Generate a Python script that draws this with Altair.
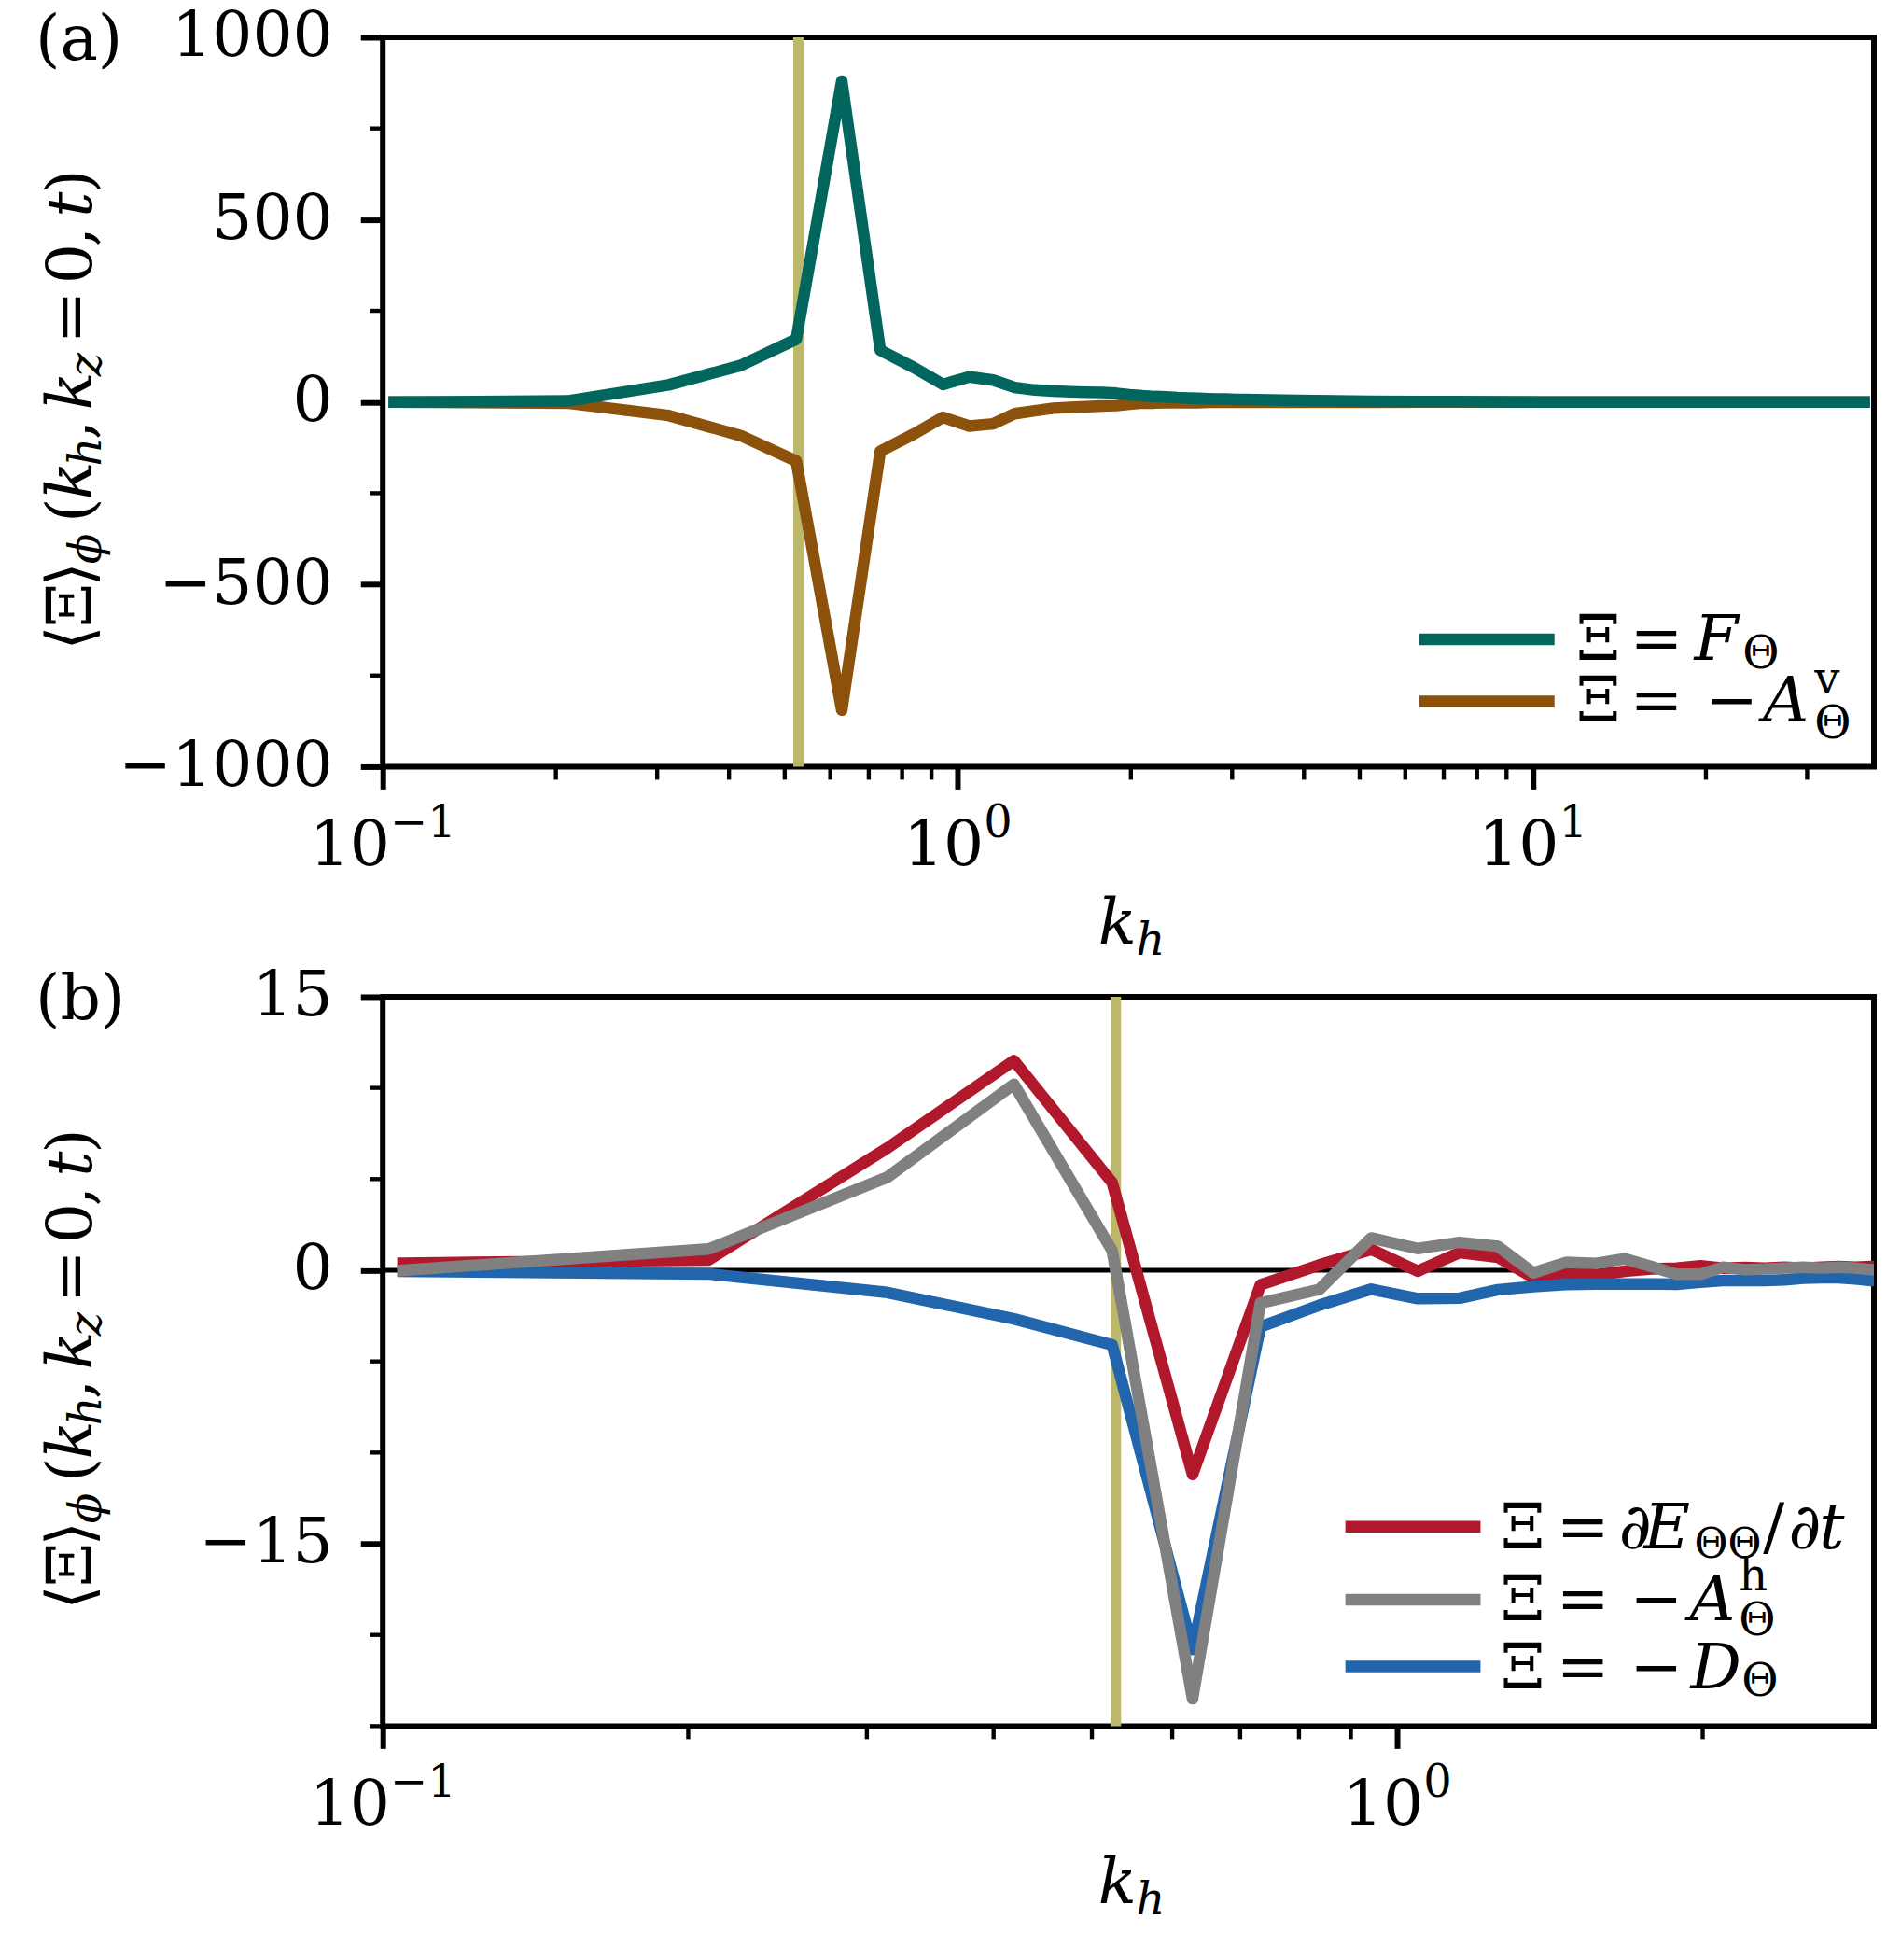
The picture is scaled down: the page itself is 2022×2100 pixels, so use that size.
import altair as alt
import pandas as pd

# ---------------- data ----------------
kh_a = [0.1047, 0.2094, 0.3142, 0.4189, 0.5236, 0.6283, 0.7330, 0.8378, 0.9425, 1.0472,
        1.1519, 1.2566, 1.3614, 1.4661, 1.5708, 1.6755, 1.7802, 1.8850, 1.9897, 2.0944,
        2.1991, 2.3038, 2.4086, 2.5133, 2.6180, 2.7227, 2.8274, 2.9322, 3.0369, 3.1416,
        3.6652, 4.1888, 5.2360, 7.3304, 10.472, 15.708, 20.944, 31.416, 37.699]
F_theta = [0, 3, 47, 100, 172, 880, 142, 95, 48, 69,
           60, 40, 33, 30, 28, 27, 26, 24, 20, 17,
           15, 14, 12, 11, 10, 9, 8, 8, 7, 7,
           5, 4, 2, 1, 0, 0, 0, 0, 0]
neg_Av = [0, -3, -37, -92, -162, -845, -135, -88, -42, -66,
          -60, -32, -24, -17, -15, -13, -11, -10, -6, -3,
          -3, -2, -2, -2, -2, -1, -1, -1, -1, -1,
          -1, -1, -1, 0, 0, 0, 0, 0, 0]

kh_b = kh_a[:29]
dE_dt = [0.39, 0.56, 6.7, 11.5, 4.8, -11.2, -0.8, 0.29, 1.14, -0.05,
         0.97, 0.71, -0.4, -0.14, -0.28, -0.05, 0.07, 0.12, 0.24, 0.12,
         0.15, 0.12, 0.17, 0.12, 0.17, 0.2, 0.17, 0.2, 0.2]
neg_Ah = [0, 1.16, 5.1, 10.2, 1.07, -23.5, -1.8, -1.05, 1.77, 1.19,
          1.53, 1.31, -0.14, 0.43, 0.37, 0.63, 0.2, -0.22, -0.22, 0.17,
          0.03, 0.07, 0.12, 0.17, 0.12, 0.17, 0.12, 0.03, 0.0]
neg_D = [-0.05, -0.2, -1.22, -2.67, -4.1, -20.8, -3.1, -1.92, -1.04, -1.55,
         -1.53, -1.07, -0.9, -0.78, -0.75, -0.75, -0.75, -0.77, -0.65, -0.56,
         -0.56, -0.56, -0.53, -0.44, -0.41, -0.41, -0.48, -0.56, -0.56]

k_f = 0.528

xmaj_a = [0.1, 1, 10]
xmin_a = [0.2, 0.3, 0.4, 0.5, 0.6, 0.7, 0.8, 0.9, 2, 3, 4, 5, 6, 7, 8, 9, 20, 30]
xmaj_b = [0.1, 1]
xmin_b = [0.2, 0.3, 0.4, 0.5, 0.6, 0.7, 0.8, 0.9, 2]
ymaj_a = [-1000, -500, 0, 500, 1000]
ymin_a = [-750, -250, 250, 750]
ymaj_b = [-15, 0, 15]
ymin_b = [-25, -20, -10, -5, 5, 10]
x_sup = {0.1: "\u22121", 1: "0", 10: "1"}

C_F, C_AV = "#01665e", "#8c510a"
C_E, C_AH, C_D = "#b2182b", "#808080", "#2166ac"
C_KF = "#bdb76b"

# ---------------- style ----------------
W, H = 1601, 783
FONT = "DejaVu Serif"
FS, FSS = 68, 48
LW = 12.5
SPINE = 6


def one():
    return pd.DataFrame({"d": [0]})


def txt(s, x, y, size=FS, italic=False, angle=None, align="left"):
    kw = dict(text=s, font=FONT, fontSize=size, align=align,
              baseline="alphabetic", color="black")
    if italic:
        kw["fontStyle"] = "italic"
    if angle is not None:
        kw["angle"] = angle
    return alt.Chart(one()).mark_text(**kw).encode(x=alt.value(x), y=alt.value(y))


# y-label pieces: text, advance (em), italic, subscript
YL = [("\u27e8", 0.39, False, False), ("\u039e", 0.70, False, False), ("\u27e9", 0.39, False, False),
      ("\u03d5", 0.49, True, True), (None, 0.22, False, False),
      ("(", 0.39, False, False), ("k", 0.58, True, False), ("h", 0.45, True, True),
      (",", 0.318, False, False), (None, 0.19, False, False),
      ("k", 0.58, True, False), ("z", 0.37, True, True), (None, 0.19, False, False),
      ("=", 0.838, False, False), (None, 0.19, False, False),
      ("0", 0.636, False, False), (",", 0.318, False, False), (None, 0.19, False, False),
      ("t", 0.40, True, False), (")", 0.39, False, False)]


def ylabel_layers():
    scale = 0.92
    start = 658
    cum = 0.0
    out = []
    for s, adv, ital, sub in YL:
        if s is not None:
            out.append(txt(s, -303 if sub else -313, start - cum,
                           size=FSS if sub else FS, italic=ital, angle=270))
        cum += adv * FS * scale
    return out


def panel(kh, series, xdom, ydom, xmaj, xmin, ymaj, ymin, legend, hx, tag, zero_line):
    xs = alt.Scale(type="log", domain=xdom, nice=False)
    ys = alt.Scale(domain=ydom, nice=False, zero=False)
    xax = alt.Axis(values=xmaj, labels=False, title=None, tickSize=24, tickWidth=SPINE,
                   tickColor="black", domain=False, grid=False)
    yax = alt.Axis(values=ymaj, title=None, tickSize=24, tickWidth=SPINE, tickColor="black",
                   domain=False, grid=False, labelFont=FONT, labelFontSize=FS,
                   labelColor="black", labelPadding=30, labelFlush=False,
                   labelOverlap=False, labelLimit=1000,
                   labelExpr="datum.value < 0 ? '\u2212' + format(-datum.value, 'd') : format(datum.value, 'd')")
    X = alt.X("kh:Q", scale=xs, axis=xax)
    Y = alt.Y("v:Q", scale=ys, axis=yax)

    layers = [alt.Chart(pd.DataFrame({"kh": [k_f]})).mark_rule(color=C_KF, strokeWidth=11).encode(x=X)]
    if zero_line:
        layers.append(alt.Chart(pd.DataFrame({"v": [0]})).mark_rule(color="black", strokeWidth=5).encode(y=Y))
    for vals, col in series:
        df = pd.DataFrame({"kh": kh[:len(vals)], "v": vals})
        layers.append(alt.Chart(df).mark_line(color=col, strokeWidth=LW, clip=True,
                                              strokeJoin="round", strokeCap="square")
                      .encode(x=X, y=Y))
    # minor ticks
    layers.append(alt.Chart(pd.DataFrame({"kh": xmin})).mark_rule(color="black", strokeWidth=4.4)
                  .encode(x=X, y=alt.value(H), y2=alt.value(H + 14)))
    layers.append(alt.Chart(pd.DataFrame({"v": ymin})).mark_rule(color="black", strokeWidth=4.4)
                  .encode(y=Y, x=alt.value(0), x2=alt.value(-14)))
    # x tick labels 10^n
    base_w = 2 * 0.636 * FS
    for v in xmaj:
        sup = x_sup[v]
        sup_w = (0.838 + 0.636) * FSS if sup.startswith("\u2212") else 0.636 * FSS
        d = -(base_w + sup_w) / 2 + base_w
        df = pd.DataFrame({"kh": [v]})
        layers.append(alt.Chart(df).mark_text(text="10", font=FONT, fontSize=FS, align="right",
                                              baseline="alphabetic", dx=d, color="black")
                      .encode(x=X, y=alt.value(H + 106)))
        layers.append(alt.Chart(df).mark_text(text=sup, font=FONT, fontSize=FSS, align="left",
                                              baseline="alphabetic", dx=d, color="black")
                      .encode(x=X, y=alt.value(H + 76)))
    # x title k_h
    layers.append(txt("k", 768, H + 190, italic=True))
    layers.append(txt("h", 809, H + 202, size=FSS, italic=True))
    # y title
    layers += ylabel_layers()
    # panel tag
    layers.append(txt(tag, -373, 24))
    # legend
    for col, hy, by, pieces in legend:
        layers.append(alt.Chart(one()).mark_rule(color=col, strokeWidth=LW, strokeCap="butt")
                      .encode(x=alt.value(hx[0]), x2=alt.value(hx[1]), y=alt.value(hy)))
        for s, px, off, ital, size in pieces:
            layers.append(txt(s, px, by + off, size=size, italic=ital))
    return alt.layer(*layers).properties(width=W, height=H)


leg_a = [
    (C_F, 646.3, 668, [("\u039e", 1281, 0, False, FS), ("=", 1339, 0, False, FS),
                       ("F", 1408, 0, True, FS), ("\u0398", 1460, 9, False, FSS)]),
    (C_AV, 713, 734.7, [("\u039e", 1281, 0, False, FS), ("=", 1339, 0, False, FS),
                        ("\u2212", 1420, 0, False, FS), ("A", 1482, 0, True, FS),
                        ("v", 1537, -30, False, FSS), ("\u0398", 1537, 18, False, FSS)]),
]
leg_b = [
    (C_E, 569, 592.3, [("\u039e", 1200, 0, False, FS), ("=", 1260, 0, False, FS),
                       ("\u2202", 1327, 0, True, FS), ("E", 1354, 0, True, FS),
                       ("\u0398\u0398", 1408, 10, False, 44), ("/", 1482, 0, False, FS),
                       ("\u2202", 1509, 0, True, FS), ("t", 1542, 0, True, FS)]),
    (C_AH, 647.3, 669.7, [("\u039e", 1200, 0, False, FS), ("=", 1260, 0, False, FS),
                          ("\u2212", 1339, 0, False, FS), ("A", 1403, 0, True, FS),
                          ("h", 1456, -32, False, FSS), ("\u0398", 1456, 16, False, FSS)]),
    (C_D, 719, 743, [("\u039e", 1200, 0, False, FS), ("=", 1260, 0, False, FS),
                     ("\u2212", 1339, 0, False, FS), ("D", 1404, 0, True, FS),
                     ("\u0398", 1459, 8, False, FSS)]),
]

pa = panel(kh_a, [(neg_Av, C_AV), (F_theta, C_F)], [0.1, 39.2], [-1000, 1000],
           xmaj_a, xmin_a, ymaj_a, ymin_a, leg_a, (1112.6, 1258), "(a)", False)
pb = panel(kh_b, [(dE_dt, C_E), (neg_D, C_D), (neg_Ah, C_AH)], [0.1, 2.95], [-25, 15],
           xmaj_b, xmin_b, ymaj_b, ymin_b, leg_b, (1033.5, 1178.6), "(b)", True)

chart = alt.vconcat(pa, pb, spacing=247, bounds="flush",
                    padding={"left": 27, "top": -7, "right": 0, "bottom": 8}
                    ).configure_view(stroke="black", strokeWidth=SPINE)

chart.save("out.html", embed_options={"renderer": "svg", "actions": False})
